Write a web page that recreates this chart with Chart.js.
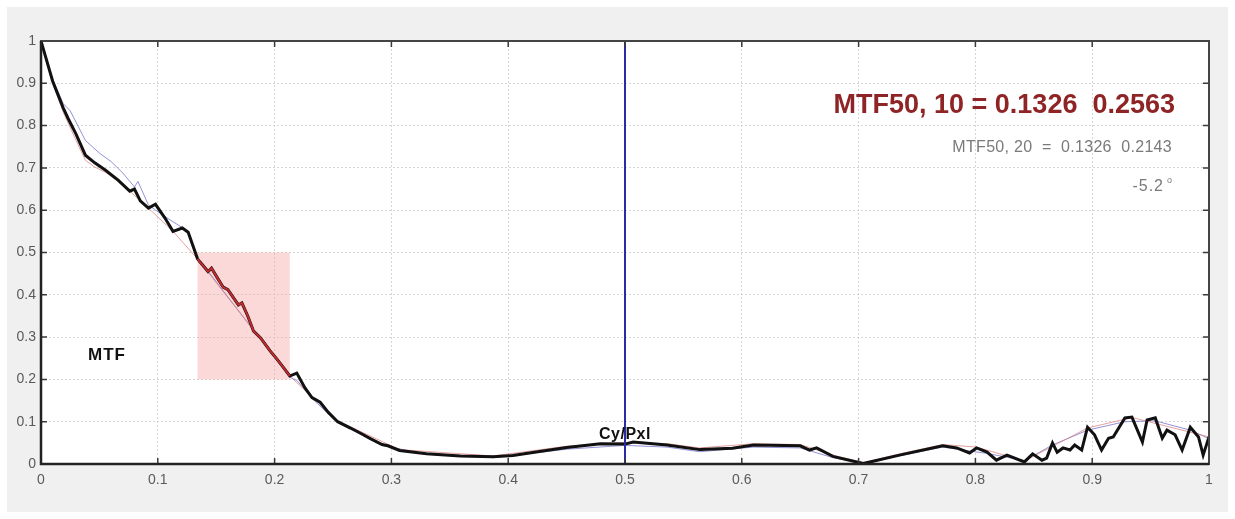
<!DOCTYPE html>
<html>
<head>
<meta charset="utf-8">
<script src="https://cdn.jsdelivr.net/npm/chart.js@4.4.1/dist/chart.umd.min.js"></script>
<style>
html,body{margin:0;padding:0;background:#fff;}
#c{display:block;}
</style>
</head>
<body>
<canvas id="c" width="1235" height="519"></canvas>
<script>
// ---- data ----
const mtfX = [0, 0.010, 0.019, 0.023, 0.030, 0.038, 0.046, 0.055, 0.066, 0.076, 0.080, 0.085, 0.092, 0.098, 0.106, 0.113, 0.121, 0.126, 0.134, 0.136, 0.143, 0.146, 0.151, 0.156, 0.160, 0.165, 0.169, 0.172, 0.177, 0.182, 0.188, 0.196, 0.202, 0.207, 0.213, 0.219, 0.226, 0.232, 0.239, 0.246, 0.254, 0.265, 0.274, 0.282, 0.292, 0.297, 0.307, 0.330, 0.359, 0.387, 0.404, 0.421, 0.450, 0.479, 0.500, 0.507, 0.536, 0.564, 0.592, 0.610, 0.650, 0.658, 0.664, 0.678, 0.704, 0.735, 0.772, 0.784, 0.795, 0.801, 0.810, 0.818, 0.827, 0.842, 0.849, 0.857, 0.861, 0.866, 0.870, 0.875, 0.881, 0.885, 0.891, 0.896, 0.902, 0.908, 0.914, 0.918, 0.928, 0.934, 0.943, 0.947, 0.954, 0.960, 0.964, 0.971, 0.977, 0.984, 0.991, 0.995, 1.0];
const mtfY = [1.0, 0.905, 0.842, 0.818, 0.780, 0.730, 0.712, 0.695, 0.671, 0.645, 0.650, 0.622, 0.605, 0.614, 0.582, 0.550, 0.558, 0.548, 0.485, 0.478, 0.455, 0.463, 0.440, 0.418, 0.412, 0.392, 0.376, 0.381, 0.350, 0.314, 0.298, 0.268, 0.248, 0.230, 0.208, 0.215, 0.180, 0.157, 0.146, 0.122, 0.100, 0.085, 0.072, 0.060, 0.046, 0.043, 0.032, 0.024, 0.019, 0.017, 0.020, 0.027, 0.039, 0.048, 0.047, 0.052, 0.045, 0.034, 0.037, 0.045, 0.043, 0.033, 0.038, 0.018, 0.001, 0.021, 0.043, 0.038, 0.026, 0.038, 0.028, 0.009, 0.021, 0.005, 0.024, 0.009, 0.014, 0.050, 0.028, 0.038, 0.033, 0.045, 0.033, 0.087, 0.069, 0.033, 0.061, 0.064, 0.109, 0.111, 0.052, 0.104, 0.109, 0.061, 0.080, 0.069, 0.033, 0.087, 0.064, 0.021, 0.064];

const blueX = [0, 0.010, 0.019, 0.025, 0.038, 0.050, 0.060, 0.070, 0.080, 0.083, 0.092, 0.106, 0.126, 0.134, 0.213, 0.219, 0.232, 0.254, 0.292, 0.330, 0.387, 0.450, 0.500, 0.536, 0.564, 0.610, 0.650, 0.678, 0.704, 0.772, 0.810, 0.842, 0.866, 0.896, 0.928, 0.954, 0.984, 1.0];
const blueY = [1.0, 0.910, 0.852, 0.835, 0.765, 0.735, 0.715, 0.688, 0.655, 0.668, 0.612, 0.585, 0.550, 0.488, 0.205, 0.198, 0.155, 0.098, 0.044, 0.023, 0.015, 0.035, 0.044, 0.040, 0.029, 0.040, 0.038, 0.015, 0.002, 0.040, 0.025, 0.008, 0.045, 0.080, 0.100, 0.102, 0.080, 0.060];

const redX = [0, 0.010, 0.019, 0.030, 0.038, 0.046, 0.055, 0.066, 0.076, 0.092, 0.113, 0.134, 0.213, 0.254, 0.307, 0.387, 0.450, 0.500, 0.536, 0.564, 0.610, 0.650, 0.678, 0.704, 0.735, 0.772, 0.801, 0.842, 0.896, 0.934, 1.0];
const redY = [1.0, 0.900, 0.832, 0.765, 0.718, 0.702, 0.690, 0.668, 0.645, 0.605, 0.550, 0.485, 0.208, 0.102, 0.034, 0.019, 0.042, 0.051, 0.048, 0.038, 0.048, 0.046, 0.021, 0.003, 0.024, 0.046, 0.040, 0.007, 0.085, 0.110, 0.064];

const cursorX = 0.5;
const boxX = [0.134, 0.213];
const boxY = [0.2, 0.5];
const tickValues = [0, 0.1, 0.2, 0.3, 0.4, 0.5, 0.6, 0.7, 0.8, 0.9, 1];
const tickLabels = ['0', '0.1', '0.2', '0.3', '0.4', '0.5', '0.6', '0.7', '0.8', '0.9', '1'];

const titleMain = 'MTF50, 10 = 0.1326  0.2563';
const titleSub = 'MTF50, 20  =  0.1326  0.2143';
const angleText = '-5.2';
const curveLabel = 'MTF';
const axisLabel = 'Cy/Pxl';

// ---- derived point lists ----
const pts = (xs, ys) => xs.map((x, i) => ({x: x, y: ys[i]}));
const mainPts = pts(mtfX, mtfY);
const redSegPts = mainPts.filter(p => p.x >= boxX[0] && p.x <= boxX[1]);

const FONT = '"Liberation Sans", Arial, sans-serif';

function drawText(ctx, txt, x, y, font, color, align, spacing) {
  ctx.font = font;
  ctx.fillStyle = color;
  ctx.textAlign = align;
  ctx.letterSpacing = (spacing || 0) + 'px';
  ctx.fillText(txt, x, y);
  ctx.letterSpacing = '0px';
}

const bgPlugin = {
  id: 'bg',
  beforeDraw(chart) {
    const ctx = chart.ctx, a = chart.chartArea;
    ctx.save();
    ctx.fillStyle = '#ffffff';
    ctx.fillRect(0, 0, chart.width, chart.height);
    ctx.fillStyle = '#f0f0f0';
    ctx.fillRect(7, 7, chart.width - 14, chart.height - 14);
    ctx.fillStyle = '#ffffff';
    ctx.fillRect(a.left, a.top, a.right - a.left, a.bottom - a.top);
    ctx.restore();
  },
  beforeDatasetsDraw(chart) {
    const ctx = chart.ctx, xs = chart.scales.x, ys = chart.scales.y;
    const x0 = xs.getPixelForValue(boxX[0]), x1 = xs.getPixelForValue(boxX[1]);
    const y0 = ys.getPixelForValue(boxY[1]), y1 = ys.getPixelForValue(boxY[0]);
    ctx.save();
    ctx.fillStyle = 'rgba(248,170,170,0.45)';
    ctx.fillRect(x0, y0, x1 - x0, y1 - y0);
    ctx.restore();
  },
  afterDraw(chart) {
    const ctx = chart.ctx, a = chart.chartArea, xs = chart.scales.x, ys = chart.scales.y;
    ctx.save();
    // inner tick marks
    ctx.strokeStyle = '#3a3a3a';
    ctx.lineWidth = 1.5;
    ctx.beginPath();
    tickValues.forEach(v => {
      const px = xs.getPixelForValue(v);
      ctx.moveTo(px, a.bottom); ctx.lineTo(px, a.bottom - 6);
      ctx.moveTo(px, a.top); ctx.lineTo(px, a.top + 6);
      const py = ys.getPixelForValue(v);
      ctx.moveTo(a.left, py); ctx.lineTo(a.left + 6, py);
      ctx.moveTo(a.right, py); ctx.lineTo(a.right - 6, py);
    });
    ctx.stroke();
    // frame
    ctx.strokeStyle = '#444';
    ctx.lineWidth = 2;
    ctx.strokeRect(a.left, a.top, a.right - a.left, a.bottom - a.top);
    ctx.strokeStyle = '#222';
    ctx.lineWidth = 2.5;
    ctx.beginPath();
    ctx.moveTo(a.left, a.top); ctx.lineTo(a.left, a.bottom); ctx.lineTo(a.right, a.bottom);
    ctx.stroke();

    // texts
    ctx.textBaseline = 'alphabetic';
    drawText(ctx, titleMain, 1175, 113, 'bold 27px ' + FONT, '#8e2426', 'right', 0);
    drawText(ctx, titleSub, 1172, 152, '16px ' + FONT, '#7a7a7a', 'right', 0.3);
    drawText(ctx, 'o', 1172, 183, '9px ' + FONT, '#7a7a7a', 'right', 0);
    drawText(ctx, angleText, 1164, 191, '16px ' + FONT, '#7a7a7a', 'right', 1);
    drawText(ctx, curveLabel, 88, 360, 'bold 17px ' + FONT, '#111', 'left', 1);
    drawText(ctx, axisLabel, xs.getPixelForValue(cursorX), 439, 'bold 16px ' + FONT, '#111', 'center', 0.5);
    ctx.restore();
  }
};

new Chart(document.getElementById('c'), {
  type: 'scatter',
  plugins: [bgPlugin],
  data: {
    datasets: [
      { data: pts(blueX, blueY), showLine: true, borderColor: 'rgba(110,110,200,0.75)', borderWidth: 1, pointRadius: 0, tension: 0, order: 4 },
      { data: pts(redX, redY), showLine: true, borderColor: 'rgba(220,130,130,0.75)', borderWidth: 1, pointRadius: 0, tension: 0, order: 3 },
      { data: mainPts, showLine: true, borderColor: '#111111', borderWidth: 3, pointRadius: 0, tension: 0, order: 2 },
      { data: redSegPts, showLine: true, borderColor: '#c42a2c', borderWidth: 2, pointRadius: 0, tension: 0, order: 1 },
      { data: [{x: cursorX, y: 0}, {x: cursorX, y: 1}], showLine: true, borderColor: '#2b2ba6', borderWidth: 2, pointRadius: 0, order: 0 }
    ]
  },
  options: {
    responsive: false,
    animation: false,
    devicePixelRatio: 1,
    layout: { padding: { top: 41, right: 26, left: 0, bottom: 0 } },
    plugins: { legend: { display: false }, tooltip: { enabled: false } },
    scales: {
      x: {
        type: 'linear', min: 0, max: 1,
        afterFit(s) { s.height = 55; },
        afterBuildTicks(s) { s.ticks = tickValues.map(v => ({value: v})); },
        ticks: { callback: (v, i) => tickLabels[i], color: '#5a5a5a', font: { family: FONT, size: 14 }, padding: 8, maxRotation: 0, autoSkip: false },
        grid: { color: '#d6d6d6', lineWidth: 1, drawTicks: false },
        border: { display: false, dash: [2, 2] }
      },
      y: {
        type: 'linear', min: 0, max: 1,
        afterFit(s) { s.width = 41; },
        afterBuildTicks(s) { s.ticks = tickValues.map(v => ({value: v})); },
        ticks: { callback: (v, i) => tickLabels[i], color: '#5a5a5a', font: { family: FONT, size: 14 }, padding: 5, autoSkip: false },
        grid: { color: '#d6d6d6', lineWidth: 1, drawTicks: false },
        border: { display: false, dash: [2, 2] }
      }
    }
  }
});
</script>
</body>
</html>
